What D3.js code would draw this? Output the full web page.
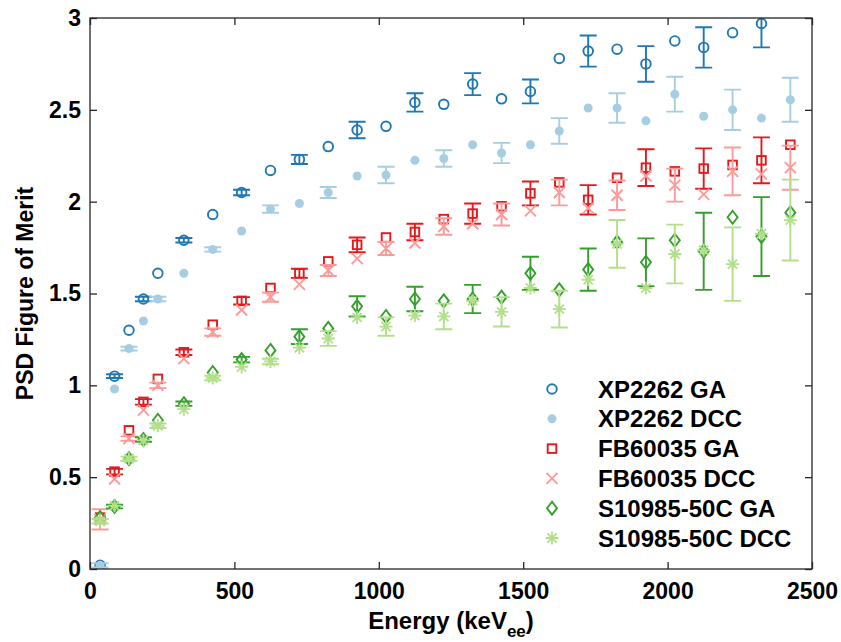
<!DOCTYPE html>
<head>
	<script src="https://d3js.org/d3.v7.min.js"></script>
	<style>
		body { margin: 0; background: #fff; }
		text { font-family: "Liberation Sans", Arial, sans-serif; font-weight: bold; fill: #000; }
	</style>
</head>
<body>
	<script>
		// data
		var energy = [35, 85, 135, 185, 235, 325, 425, 525, 625, 725, 825, 925, 1025, 1125, 1225, 1325, 1425, 1525, 1625, 1725, 1825, 1925, 2025, 2125, 2225, 2325, 2425];

		var xpGA = [0.02, 1.05, 1.30, 1.47, 1.61, 1.79, 1.93, 2.05, 2.17, 2.23, 2.30, 2.39, 2.41, 2.54, 2.53, 2.64, 2.56, 2.60, 2.78, 2.82, 2.83, 2.75, 2.875, 2.84, 2.92, 2.97, null];
		var xpGAErr = [null, 0.01, null, 0.012, null, 0.012, null, 0.015, null, 0.025, null, 0.045, null, 0.05, null, 0.06, null, 0.065, null, 0.085, null, 0.097, null, 0.11, null, 0.13, null];

		var xpDCC = [0.02, 0.98, 1.20, 1.35, 1.47, 1.61, 1.74, 1.84, 1.96, 1.99, 2.05, 2.14, 2.145, 2.225, 2.235, 2.31, 2.265, 2.31, 2.385, 2.51, 2.51, 2.44, 2.585, 2.465, 2.50, 2.455, 2.555];
		var xpDCCErr = [0.012, null, 0.01, null, 0.012, null, 0.012, null, 0.02, null, 0.03, null, 0.045, null, 0.045, null, 0.055, null, 0.07, null, 0.08, null, 0.095, null, 0.11, null, 0.12];

		var fbGA = [0.28, 0.53, 0.755, 0.91, 1.035, 1.18, 1.33, 1.46, 1.53, 1.61, 1.675, 1.765, 1.805, 1.835, 1.905, 1.935, 1.975, 2.045, 2.105, 2.01, 2.13, 2.185, 2.165, 2.18, 2.20, 2.225, 2.31];
		var fbGAErr = [null, 0.015, null, 0.015, null, 0.015, null, 0.02, null, 0.025, null, 0.04, null, 0.045, null, 0.055, null, 0.065, null, 0.08, null, 0.10, null, 0.11, null, 0.125, null];

		var fbDCC = [0.27, 0.49, 0.71, 0.865, 1.00, 1.145, 1.29, 1.41, 1.48, 1.55, 1.625, 1.69, 1.745, 1.775, 1.865, 1.88, 1.93, 1.95, 2.05, 1.965, 2.035, 2.14, 2.09, 2.04, 2.165, 2.15, 2.185];
		var fbDCCErr = [0.055, null, 0.012, null, 0.015, null, 0.02, null, 0.025, null, 0.03, null, 0.035, null, 0.045, null, 0.06, null, 0.07, null, 0.08, null, 0.09, null, 0.13, null, 0.12];

		var sGA = [0.28, 0.34, 0.60, 0.705, 0.81, 0.90, 1.07, 1.14, 1.19, 1.265, 1.31, 1.43, 1.375, 1.47, 1.46, 1.47, 1.48, 1.61, 1.52, 1.63, 1.78, 1.67, 1.79, 1.73, 1.915, 1.81, 1.94];
		var sGAErr = [null, 0.01, null, 0.012, null, 0.012, null, 0.015, null, 0.04, null, 0.055, null, 0.067, null, 0.077, null, 0.09, null, 0.115, null, 0.13, null, 0.21, null, 0.215, null];

		var sDCC = [0.26, 0.345, 0.60, 0.70, 0.78, 0.87, 1.04, 1.10, 1.13, 1.205, 1.255, 1.37, 1.32, 1.38, 1.375, 1.46, 1.40, 1.53, 1.415, 1.575, 1.77, 1.53, 1.715, 1.735, 1.66, 1.825, 1.90];
		var sDCCErr = [0.012, null, 0.012, null, 0.012, null, 0.012, null, 0.015, null, 0.04, null, 0.05, null, 0.07, null, 0.08, null, 0.10, null, 0.13, null, 0.16, null, 0.20, null, 0.22];

		var xTicks = [0, 500, 1000, 1500, 2000, 2500];
		var yTicks = [0, 0.5, 1, 1.5, 2, 2.5, 3];

		var series = [
			{ name: "XP2262 GA", values: xpGA, errs: xpGAErr, color: "#1f78b4", marker: "circle" },
			{ name: "XP2262 DCC", values: xpDCC, errs: xpDCCErr, color: "#a6cee3", marker: "dot" },
			{ name: "FB60035 GA", values: fbGA, errs: fbGAErr, color: "#e31a1c", marker: "square" },
			{ name: "FB60035 DCC", values: fbDCC, errs: fbDCCErr, color: "#fb9a99", marker: "cross" },
			{ name: "S10985-50C GA", values: sGA, errs: sGAErr, color: "#33a02c", marker: "diamond" },
			{ name: "S10985-50C DCC", values: sDCC, errs: sDCCErr, color: "#b2df8a", marker: "star" }
		];

		// variables
		var width = 841;
		var height = 642;
		var margin = { top: 18, right: 29, bottom: 73, left: 90 };

		var xScale = d3.scaleLinear()
			.domain([0, 2500])
			.range([margin.left, width - margin.right]);
		var yScale = d3.scaleLinear()
			.domain([0, 3])
			.range([height - margin.bottom, margin.top]);

		var svg = d3.select("body")
			.append("svg")
			.attr("width", width)
			.attr("height", height);

		svg.append("clipPath").attr("id", "plot")
			.append("rect")
			.attr("x", margin.left).attr("y", margin.top)
			.attr("width", width - margin.left - margin.right)
			.attr("height", height - margin.top - margin.bottom);

		// markers
		function drawMarker(g, type, color) {
			if (type === "circle") {
				g.append("circle").attr("r", 4.8).attr("fill", "none").attr("stroke", color).attr("stroke-width", 1.9);
			} else if (type === "dot") {
				g.append("circle").attr("r", 4.5).attr("fill", color);
			} else if (type === "square") {
				g.append("rect").attr("x", -4.3).attr("y", -4.3).attr("width", 8.6).attr("height", 8.6)
					.attr("fill", "none").attr("stroke", color).attr("stroke-width", 1.9);
			} else if (type === "cross") {
				g.append("path").attr("d", "M-5.5,-5.5L5.5,5.5M-5.5,5.5L5.5,-5.5")
					.attr("stroke", color).attr("stroke-width", 1.9);
			} else if (type === "diamond") {
				g.append("path").attr("d", "M0,-6.5L5,0L0,6.5L-5,0Z")
					.attr("fill", "none").attr("stroke", color).attr("stroke-width", 1.9);
			} else if (type === "star") {
				g.append("path").attr("d", "M-6.5,0L6.5,0M0,-6.5L0,6.5M-4.6,-4.6L4.6,4.6M-4.6,4.6L4.6,-4.6")
					.attr("stroke", color).attr("stroke-width", 1.8);
			}
		}

		var plot = svg.append("g").attr("clip-path", "url(#plot)");

		series.forEach(function(s) {
			var pts = energy.map(function(e, i) {
				return { e: e, v: s.values[i], err: s.errs[i] };
			}).filter(function(d) { return d.v !== null; });

			var g = plot.append("g").attr("stroke-linecap", "butt");

			// error bars
			pts.filter(function(d) { return d.err !== null; }).forEach(function(d) {
				var x = xScale(d.e);
				var y0 = yScale(d.v - d.err);
				var y1 = yScale(d.v + d.err);
				g.append("path")
					.attr("d", "M" + x + "," + y0 + "L" + x + "," + y1 +
						"M" + (x - 8.5) + "," + y0 + "L" + (x + 8.5) + "," + y0 +
						"M" + (x - 8.5) + "," + y1 + "L" + (x + 8.5) + "," + y1)
					.attr("stroke", s.color)
					.attr("stroke-width", 1.9)
					.attr("fill", "none");
			});

			pts.forEach(function(d) {
				var m = g.append("g").attr("transform", "translate(" + [xScale(d.e), yScale(d.v)] + ")");
				drawMarker(m, s.marker, s.color);
			});
		});

		// axes, ticks pointing inward like the original
		var axisColor = "#262626";
		var xAxis = d3.axisBottom(xScale).tickValues(xTicks).tickSize(-7).tickPadding(9).tickFormat(function(d) { return d; });
		var yAxis = d3.axisLeft(yScale).tickValues(yTicks).tickSize(-7).tickPadding(9).tickFormat(function(d) { return d; });

		var axisX = svg.append("g")
			.attr("transform", "translate(" + [0, height - margin.bottom] + ")")
			.call(xAxis);
		var axisY = svg.append("g")
			.attr("transform", "translate(" + [margin.left, 0] + ")")
			.call(yAxis);
		svg.append("g")
			.attr("transform", "translate(" + [0, margin.top] + ")")
			.call(d3.axisTop(xScale).tickValues(xTicks).tickSize(-7).tickFormat(""));
		svg.append("g")
			.attr("transform", "translate(" + [width - margin.right, 0] + ")")
			.call(d3.axisRight(yScale).tickValues(yTicks).tickSize(-7).tickFormat(""));

		svg.selectAll(".domain").remove();
		svg.selectAll(".tick line").attr("stroke", axisColor).attr("stroke-width", 1.3);
		svg.selectAll(".tick text")
			.attr("font-size", 23)
			.attr("font-family", "'Liberation Sans', Arial, sans-serif")
			.attr("font-weight", "bold")
			.attr("fill", "#000");
		axisX.selectAll(".tick text").attr("dy", "0.9em");

		svg.append("rect")
			.attr("x", margin.left).attr("y", margin.top)
			.attr("width", width - margin.left - margin.right)
			.attr("height", height - margin.top - margin.bottom)
			.attr("fill", "none")
			.attr("stroke", axisColor)
			.attr("stroke-width", 1.3);

		// titles
		var xTitle = svg.append("text")
			.attr("x", (xScale(0) + xScale(2500)) / 2)
			.attr("y", 629)
			.attr("text-anchor", "middle")
			.attr("font-size", 24);
		xTitle.append("tspan").text("Energy (keV");
		xTitle.append("tspan").text("ee").attr("font-size", 17).attr("dy", 8);
		xTitle.append("tspan").text(")").attr("dy", -8);

		svg.append("text")
			.text("PSD Figure of Merit")
			.attr("transform", "translate(" + [33, yScale(1.5)] + ") rotate(-90)")
			.attr("text-anchor", "middle")
			.attr("font-size", 23);

		// legend
		var legend = svg.append("g");
		series.forEach(function(s, i) {
			var y = 389 + i * 29.8;
			var m = legend.append("g").attr("transform", "translate(" + [552, y] + ")");
			drawMarker(m, s.marker, s.color);
			legend.append("text")
				.text(s.name)
				.attr("x", 598)
				.attr("y", y)
				.attr("dy", "0.36em")
				.attr("font-size", 24);
		});
	</script>
</body>
</html>
